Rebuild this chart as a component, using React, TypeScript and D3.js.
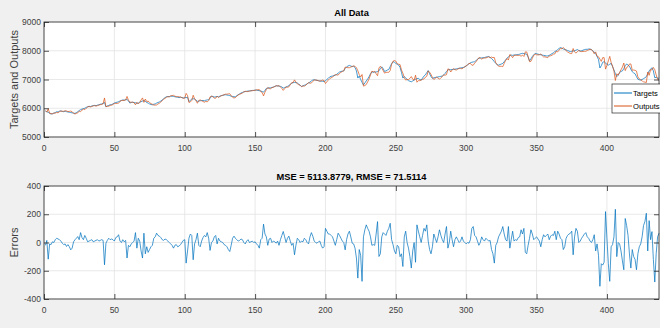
import React, { useEffect, useRef } from 'react';
import * as d3 from 'd3';

// values (index 1..437)
const targets = [
  5900, 5880, 5860, 5820, 5800, 5810, 5830, 5850, 5880, 5870,
  5900, 5910, 5890, 5880, 5900, 5880, 5870, 5860, 5850, 5840,
  5830, 5820, 5850, 5880, 5920, 5950, 5970, 5990, 6000, 6030,
  6050, 6070, 6060, 6080, 6090, 6100, 6090, 6110, 6120, 6140,
  6150, 6170, 6200, 6050, 6080, 6100, 6120, 6130, 6150, 6180,
  6200, 6210, 6230, 6250, 6270, 6290, 6280, 6300, 6300, 6260,
  6180, 6200, 6210, 6200, 6190, 6170, 6180, 6210, 6230, 6250,
  6270, 6240, 6200, 6180, 6150, 6130, 6120, 6140, 6150, 6180,
  6200, 6220, 6250, 6290, 6330, 6370, 6400, 6410, 6400, 6420,
  6420, 6410, 6400, 6390, 6380, 6370, 6380, 6370, 6360, 6370,
  6370, 6380, 6230, 6280, 6320, 6330, 6320, 6280, 6240, 6250,
  6260, 6270, 6270, 6260, 6280, 6290, 6300, 6340, 6420, 6410,
  6390, 6400, 6410, 6400, 6420, 6440, 6450, 6460, 6470, 6460,
  6450, 6440, 6420, 6410, 6400, 6400, 6440, 6470, 6500, 6530,
  6550, 6570, 6580, 6590, 6600, 6600, 6610, 6620, 6620, 6630,
  6630, 6620, 6610, 6600, 6580, 6560, 6620, 6690, 6700, 6710,
  6710, 6720, 6740, 6760, 6780, 6780, 6770, 6760, 6740, 6700,
  6720, 6740, 6760, 6790, 6830, 6870, 6890, 6900, 6890, 6880,
  6840, 6800, 6760, 6780, 6800, 6820, 6850, 6880, 6910, 6950,
  6980, 6990, 6980, 6970, 6960, 6950, 6940, 6940, 6930, 6960,
  7000, 7040, 7090, 7110, 7120, 7140, 7150, 7180, 7220, 7260,
  7280, 7290, 7300, 7380, 7440, 7470, 7490, 7470, 7450, 7460,
  7420, 7300, 7050, 7120, 7000, 6900, 6810, 6880, 6950, 7020,
  7100, 7200, 7270, 7250, 7260, 7260, 7280, 7300, 7380, 7440,
  7380, 7280, 7300, 7330, 7350, 7450, 7550, 7620, 7600, 7560,
  7530, 7500, 7420, 7250, 7050, 7100, 7060, 7000, 6960, 6940,
  6920, 6950, 6980, 7010, 7030, 7040, 7000, 6980, 7050, 7120,
  7160, 7240, 7310, 7200, 7100, 7040, 7060, 7070, 7080, 7090,
  7100, 7110, 7120, 7160, 7210, 7280, 7330, 7350, 7340, 7350,
  7350, 7360, 7370, 7380, 7390, 7400, 7410, 7420, 7440, 7470,
  7510, 7550, 7580, 7600, 7610, 7620, 7660, 7700, 7740, 7750,
  7750, 7760, 7760, 7780, 7790, 7800, 7770, 7730, 7680, 7620,
  7560, 7520, 7500, 7520, 7540, 7560, 7620, 7680, 7740, 7790,
  7830, 7850, 7840, 7850, 7860, 7860, 7870, 7880, 7900, 7910,
  7900, 7890, 7880, 7780, 7650, 7720, 7800, 7860, 7910, 7900,
  7880, 7870, 7860, 7850, 7840, 7830, 7820, 7820, 7840, 7870,
  7900, 7930, 7970, 8000, 8040, 8080, 8110, 8090, 8060, 8040,
  8030, 8010, 7990, 7970, 7980, 7990, 8000, 8020, 8040, 8010,
  7990, 8000, 8020, 8040, 8050, 8050, 8060, 8060, 8040, 8000,
  7950, 7900, 7800, 7700, 7400, 7480, 7600, 7620, 7580, 7520,
  7500, 7530, 7560, 7450, 7330, 7200, 7100, 7150, 7240, 7280,
  7300, 7380, 7480, 7540, 7500, 7460, 7360, 7270, 7230, 7200,
  7100, 7010, 6990, 6980, 7000, 7030, 7060, 7100, 7200, 7300,
  7360, 7410, 7300, 7060, 7080, 7050, 7040,
];

// errors = targets - outputs
const errors = [
  -20, 15, -118, -10, -15, 5, 0, 20, 30, 25,
  20, 10, -5, -15, -10, -28, -15, -30, -52, -40,
  5, 19, 30, 42, 20, 70, 35, 20, 50, 30,
  5, 10, 15, 20, 5, 10, 15, 20, 10, 15,
  20, 15, -158, -5, 15, 30, 20, 25, 20, 10,
  35, 40, 55, 10, 0, 20, 5, 15, -110, -20,
  -30, -10, 0, 10, 70, -40, 30, 10, -60, -110,
  66, -80, -30, -70, -50, -30, -20, 30, 40, 66,
  50, 45, 35, 20, 15, 25, 20, 10, 0, -10,
  -20, -40, -20, -15, -30, -25, -15, 0, 15, 20,
  -146, -60, 30, 60, 50, -122, -10, 20, 66, -20,
  -30, 10, 35, 50, 40, 70, 30, -56, 0, 10,
  40, 50, -10, 30, 10, 5, 0, -15, -20, -30,
  -50, -64, -20, 30, 45, 30, 20, 10, 15, 25,
  20, 0, -10, 10, 20, 0, 5, 10, 0, 5,
  -10, -20, -40, 20, 30, 130, 60, 40, -20, 25,
  30, 0, 10, 5, -5, 10, -20, 20, 50, 78,
  40, 0, 30, 45, 10, -20, -5, -87, -20, 30,
  20, 0, 10, 5, 30, 20, 0, -10, 40, 70,
  45, 10, 0, -5, 5, 10, -20, -40, -30, 100,
  80, 60, 60, 50, 40, 10, -20, 20, 66, 50,
  30, 10, 0, -52, 20, 60, 80, 40, -5, -10,
  -40, -110, -252, -50, -90, -275, 40, 90, 125, 100,
  80, 40, -20, -15, -20, 60, 148, -99, -80, 40,
  70, 60, 50, 80, 100, 136, 20, -15, -60, -80,
  -20, -30, -100, -80, -170, 40, 80, 0, -40, -100,
  -181, -60, 0, -140, 125, 80, 40, 0, 50, 100,
  80, 125, 10, -50, -80, -30, 60, 30, 0, 40,
  90, 50, 20, 0, 60, 113, -40, 0, 80, 20,
  -30, 20, 40, 20, 0, 10, 40, 10, 0, -10,
  0, -5, 20, 100, 113, 50, 40, 10, -20, 0,
  40, 20, 10, 30, 20, 10, 15, -50, -80, -146,
  -20, 0, 40, 60, 80, 113, 60, 20, 10, 113,
  -40, 20, 80, 10, 20, 15, 35, 40, 90, 60,
  100, -70, -80, -20, 30, 90, 60, 20, 30, 40,
  25, 10, -30, 20, 55, 40, 50, 60, 20, 45,
  55, 50, 80, 20, 80, 60, 30, 20, -50, -30,
  30, 50, 60, 65, 80, -87, 40, 100, 80, 0,
  10, 30, 45, 60, 70, 40, 30, 10, 0, 20,
  55, -60, -10, -90, -310, -150, -160, -140, 219, 30,
  -150, -275, -30, -15, 40, 235, -100, 0, -10, -60,
  -130, -193, 170, 120, 50, -80, -181, -50, -100, -120,
  -193, -80, -30, -10, 40, 120, 148, 207, -60, 155,
  20, 77, -120, -280, -80, 40, 66,
];

const xTicks = [0, 50, 100, 150, 200, 250, 300, 350, 400];
const topTicks = [5000, 6000, 7000, 8000, 9000];
const errTicks = [-400, -200, 0, 200, 400];
const legendNames = ['Targets', 'Outputs'];
const topTitle = 'All Data';
const errTitle = 'MSE = 5113.8779, RMSE = 71.5114';

const W = 660;
const H = 328;
const FONT = '"Liberation Sans", Arial, Helvetica, sans-serif';
const AXIS = '#262626';
const BLUE = '#0072bd';
const ORANGE = '#d95319';

const App = () => {
  const svgRef = useRef(null);

  useEffect(() => {
    const svg = d3.select(svgRef.current);
    svg.selectAll('*').remove();
    svg.append('rect').attr('width', W).attr('height', H).attr('fill', '#f0f0f0');

    const left = 44, right = 659;
    const x = d3.scaleLinear().domain([0, 437]).range([left, right]);
    const outputs = targets.map((t, i) => t - errors[i]);

    // one MATLAB-like subplot
    const panel = (top, bottom, dom, ticks, title, ylabel, series) => {
      const y = d3.scaleLinear().domain(dom).range([bottom, top]);
      const g = svg.append('g');
      g.append('rect').attr('x', left).attr('y', top)
        .attr('width', right - left).attr('height', bottom - top).attr('fill', '#fff');

      // grid
      g.selectAll('.gx').data(xTicks).enter().append('line')
        .attr('x1', d => x(d)).attr('x2', d => x(d))
        .attr('y1', top).attr('y2', bottom)
        .attr('stroke', '#e3e3e3').attr('stroke-width', 0.8);
      g.selectAll('.gy').data(ticks).enter().append('line')
        .attr('x1', left).attr('x2', right)
        .attr('y1', d => y(d)).attr('y2', d => y(d))
        .attr('stroke', '#e3e3e3').attr('stroke-width', 0.8);

      const line = d3.line().x((d, i) => x(i + 1)).y(d => y(d));
      series.forEach(s => {
        g.append('path').datum(s.values)
          .attr('d', line)
          .attr('fill', 'none')
          .attr('stroke', s.color)
          .attr('stroke-opacity', 0.85)
          .attr('stroke-width', 0.85)
          .attr('stroke-linejoin', 'round');
      });

      // box + inward ticks
      g.append('rect').attr('x', left).attr('y', top)
        .attr('width', right - left).attr('height', bottom - top)
        .attr('fill', 'none').attr('stroke', AXIS).attr('stroke-width', 0.8);

      g.append('g').attr('transform', `translate(0,${bottom})`)
        .call(d3.axisTop(x).tickValues(xTicks).tickSize(5).tickFormat(() => ''))
        .call(a => a.select('.domain').remove());
      g.append('g').attr('transform', `translate(0,${top})`)
        .call(d3.axisBottom(x).tickValues(xTicks).tickSize(5).tickFormat(() => ''))
        .call(a => a.select('.domain').remove());
      g.append('g').attr('transform', `translate(${left},0)`)
        .call(d3.axisRight(y).tickValues(ticks).tickSize(5).tickFormat(() => ''))
        .call(a => a.select('.domain').remove());
      g.append('g').attr('transform', `translate(${right},0)`)
        .call(d3.axisLeft(y).tickValues(ticks).tickSize(5).tickFormat(() => ''))
        .call(a => a.select('.domain').remove());
      g.selectAll('.tick line').attr('stroke', AXIS).attr('stroke-width', 0.8);

      // tick labels
      g.selectAll('.xl').data(xTicks).enter().append('text')
        .attr('x', d => x(d)).attr('y', bottom + 14)
        .attr('text-anchor', 'middle')
        .style('font-family', FONT).style('font-size', '8.5px').style('fill', '#404040')
        .text(d => d);
      g.selectAll('.yl').data(ticks).enter().append('text')
        .attr('x', left - 3).attr('y', d => y(d) + 3)
        .attr('text-anchor', 'end')
        .style('font-family', FONT).style('font-size', '8.5px').style('fill', '#404040')
        .text(d => d);

      g.append('text')
        .attr('x', (left + right) / 2).attr('y', top - 6)
        .attr('text-anchor', 'middle')
        .style('font-family', FONT).style('font-size', '9.3px').style('font-weight', 'bold')
        .style('fill', '#000')
        .text(title);

      g.append('text')
        .attr('transform', `translate(18,${(top + bottom) / 2}) rotate(-90)`)
        .attr('text-anchor', 'middle')
        .style('font-family', FONT).style('font-size', '11px').style('fill', '#404040')
        .text(ylabel);
      return g;
    };

    panel(22, 137, [5000, 9000], topTicks, topTitle, 'Targets and Outputs', [
      { values: targets, color: BLUE },
      { values: outputs, color: ORANGE },
    ]);
    panel(186, 299, [-400, 400], errTicks, errTitle, 'Errors', [
      { values: errors, color: BLUE },
    ]);

    // legend
    const lg = svg.append('g').attr('transform', 'translate(612,84)');
    lg.append('rect').attr('width', 52).attr('height', 29)
      .attr('fill', '#fff').attr('stroke', AXIS).attr('stroke-width', 0.7);
    lg.selectAll('.le').data(legendNames).enter().append('g')
      .attr('transform', (d, i) => `translate(0,${9 + i * 13})`)
      .each(function (d, i) {
        const e = d3.select(this);
        e.append('line').attr('x1', 2).attr('x2', 20).attr('y1', 0).attr('y2', 0)
          .attr('stroke', i === 0 ? BLUE : ORANGE).attr('stroke-width', 1);
        e.append('text').attr('x', 21).attr('y', 3)
          .style('font-family', FONT).style('font-size', '7.6px').style('fill', '#000')
          .text(d);
      });
  }, []);

  return <svg ref={svgRef} width={W} height={H} style={{ position: 'absolute', left: 0, top: 0 }}></svg>;
};

export default App;
